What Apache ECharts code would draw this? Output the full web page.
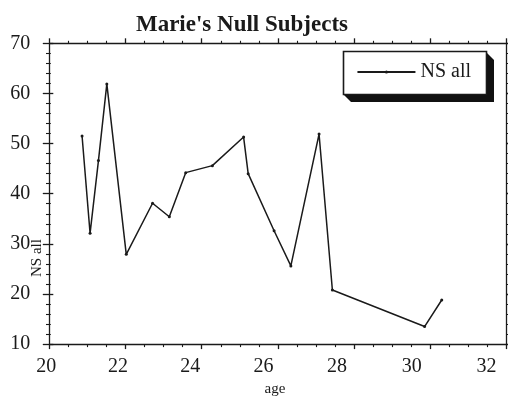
<!DOCTYPE html>
<html>
<head>
<meta charset="utf-8">
<script src="https://cdn.jsdelivr.net/npm/echarts@6/dist/echarts.min.js"></script>
<style>html,body{margin:0;padding:0;background:#fff;}#c{width:508px;height:402px;}</style>
</head>
<body>
<div id="c"></div>
<script>
// Data
const ages = [20.86, 21.07, 21.29, 21.51, 22.02, 22.71, 23.15, 23.58, 24.28, 25.10, 25.22, 25.90, 26.34, 27.08, 27.43, 29.85, 30.30];
const nsAll = [51.5, 32.1, 46.6, 61.9, 27.9, 38.1, 35.4, 44.2, 45.6, 51.3, 44.0, 32.6, 25.6, 51.9, 20.8, 13.5, 18.8];
const xTickLabels = [20, 22, 24, 26, 28, 30, 32];
const yTickLabels = [10, 20, 30, 40, 50, 60, 70];
const seriesName = 'NS all';
const titleText = "Marie's Null Subjects";
const xName = 'age';
const yName = 'NS all';

const FONT = '"Liberation Serif", "DejaVu Serif", serif';
const INK = '#1a1a1a';
const chart = echarts.init(document.getElementById('c'), null, {renderer: 'canvas'});

const points = ages.map((a, i) => [a, nsAll[i]]);

// In the reference the tick labels drift left of their ticks; leftward shift (px) per label
const labelShift = [3, 7.5, 11.5, 14.5, 17, 18.5, 20];
const richX = {};
xTickLabels.forEach((v, i) => {
  richX['l' + i] = {fontFamily: FONT, fontSize: 20, color: INK, padding: [0, 2 * labelShift[i], 0, 0]};
});

const lineStyle = {color: INK, width: 1.3};

chart.setOption({
  animation: false,
  backgroundColor: '#fff',
  title: {
    text: titleText,
    left: 237, top: 9, textAlign: 'center',
    textStyle: {fontFamily: FONT, fontSize: 23, fontWeight: 'bold', color: INK}
  },
  grid: {left: 49.3, right: 1.5, top: 43.3, bottom: 51.3, containLabel: false},
  legend: {
    data: [seriesName],
    right: 21, top: 51,
    padding: [11, 16, 11, 12],
    itemWidth: 58, itemHeight: 4, itemGap: 5,
    z: 20,
    textStyle: {fontFamily: FONT, fontSize: 20, color: INK}
  },
  xAxis: [
    { // bottom ticks + labels
      type: 'value', position: 'bottom', min: 20, max: 32, interval: 2,
      axisLine: {show: true, lineStyle: lineStyle},
      axisTick: {show: true, inside: false, length: 5, lineStyle: lineStyle},
      minorTick: {show: true, splitNumber: 4, length: 3, lineStyle: {color: INK, width: 1.1}},
      axisLabel: {show: true, margin: 13, showMinLabel: true, showMaxLabel: true,
        fontFamily: FONT, fontSize: 20, color: INK,
        formatter: function (v) {
          const i = xTickLabels.indexOf(Math.round(v));
          return i >= 0 ? '{l' + i + '|' + xTickLabels[i] + '}' : '';
        },
        rich: richX},
      splitLine: {show: false}, minorSplitLine: {show: false},
      name: xName, nameLocation: 'middle', nameGap: 33,
      nameTextStyle: {fontFamily: FONT, fontSize: 15, color: INK, padding: [0, 6, 0, 0]}
    },
    { // top ticks
      type: 'value', position: 'top', min: 20, max: 32, interval: 2,
      axisLine: {show: true, lineStyle: lineStyle},
      axisTick: {show: true, inside: false, length: 5, lineStyle: lineStyle},
      minorTick: {show: true, splitNumber: 4, length: 2.5, lineStyle: {color: INK, width: 1.1}},
      axisLabel: {show: false},
      splitLine: {show: false}
    }
  ],
  yAxis: [
    { // left, outside ticks + labels
      type: 'value', position: 'left', min: 10, max: 70, interval: 10,
      axisLine: {show: true, lineStyle: lineStyle},
      axisTick: {show: true, inside: false, length: 6.5, lineStyle: lineStyle},
      minorTick: {show: true, splitNumber: 5, length: 3.3, lineStyle: {color: INK, width: 1.1}},
      axisLabel: {show: true, margin: 19, fontFamily: FONT, fontSize: 20, color: INK,
        customValues: yTickLabels},
      splitLine: {show: false}
    },
    { // left, inside ticks
      type: 'value', position: 'left', min: 10, max: 70, interval: 10,
      axisLine: {show: false},
      axisTick: {show: true, inside: true, length: 4, lineStyle: lineStyle},
      minorTick: {show: true, splitNumber: 5, length: 1.5, lineStyle: {color: INK, width: 1.1}},
      axisLabel: {show: false},
      splitLine: {show: false}
    },
    { // right
      type: 'value', position: 'right', min: 10, max: 70, interval: 10,
      axisLine: {show: true, lineStyle: lineStyle},
      axisTick: {show: true, inside: false, length: 2.5, lineStyle: lineStyle},
      minorTick: {show: true, splitNumber: 5, length: 2, lineStyle: {color: INK, width: 1}},
      axisLabel: {show: false},
      splitLine: {show: false}
    }
  ],
  graphic: [
    { // legend drop shadow (bevelled corners)
      type: 'polygon', z: 5,
      shape: {points: [[486, 52], [494, 60], [494, 102], [351, 102], [343, 94]]},
      style: {fill: '#111'}
    },
    { // legend box
      type: 'rect', z: 6,
      shape: {x: 343.5, y: 51.5, width: 143, height: 43},
      style: {fill: '#fff', stroke: INK, lineWidth: 1.6}
    },
    {
      type: 'text', z: 6,
      x: 37, y: 258, rotation: Math.PI / 2,
      style: {text: yName, fontFamily: FONT, fontSize: 15, fill: INK, align: 'center', verticalAlign: 'middle'}
    }
  ],
  series: [{
    name: seriesName,
    type: 'line',
    xAxisIndex: 0, yAxisIndex: 0,
    data: points,
    symbol: 'circle', symbolSize: 3,
    showSymbol: true,
    itemStyle: {color: INK},
    lineStyle: {color: INK, width: 1.5}
  }]
});
</script>
</body>
</html>
